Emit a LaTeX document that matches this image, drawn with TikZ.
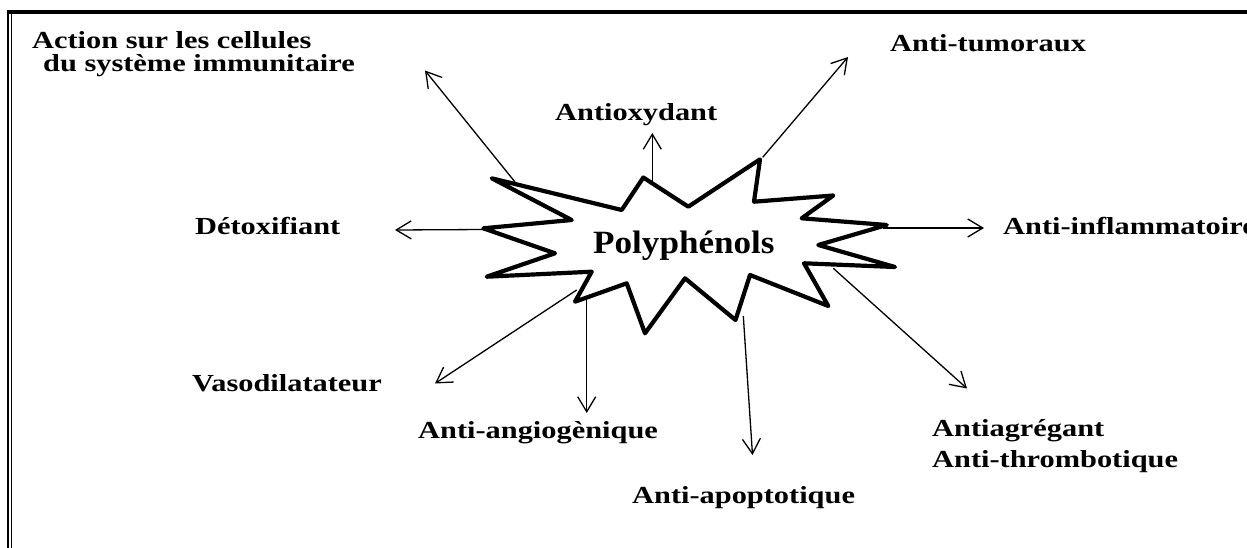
\documentclass[tikz,border=0pt]{standalone}
\usepackage{fontspec}
\setmainfont{Liberation Serif}
\newfontfamily\labfont[FakeStretch=1.24,Ligatures=NoCommon]{Liberation Serif}
\newfontfamily\polyfont[FakeStretch=1.08,Ligatures=NoCommon]{Liberation Serif}
\usetikzlibrary{arrows.meta}
\tikzset{
  lab/.style={anchor=base west, inner sep=0pt, font=\labfont\bfseries\fontsize{24.5}{28}\selectfont},
  polylab/.style={anchor=base west, inner sep=0pt, font=\polyfont\bfseries\fontsize{32.5}{36}\selectfont},
  conn/.style={line width=1.3pt, -{Straight Barb[length=15pt,width=18pt,line width=1.3pt]}},
  starline/.style={line width=4.2pt, line join=round, fill=white},
}
\begin{document}
\begin{tikzpicture}[x=1pt,y=-1pt]
\useasboundingbox (0,0) rectangle (1247,548);
\clip (0,0) rectangle (1247,548);
% frame
\draw[line width=4pt] (7.3,12) -- (1247,12);
\draw[line width=2pt] (8.3,10) -- (8.3,548);
\draw[line width=1.4pt] (11.7,14) -- (11.7,548);
% labels
\node[lab] (act1) at (32,49) {Action sur les cellules};
\node[lab] (act2) at (43,72) {du système immunitaire};
\node[lab] (antiox) at (555,121) {Antioxydant};
\node[lab] (tum) at (890,52) {Anti-tumoraux};
\node[lab] (detox) at (195,234) {Détoxifiant};
\node[lab] (inflam) at (1003,234) {Anti-inflammatoire};
\node[lab] (vaso) at (192,391) {Vasodilatateur};
\node[lab] (angio) at (418,438) {Anti-angiogènique};
\node[lab] (apop) at (632,503) {Anti-apoptotique};
\node[lab] (agr1) at (932,436) {Antiagrégant};
\node[lab] (agr2) at (932,467) {Anti-thrombotique};
% arrow coordinates
\coordinate (s1) at (515,182);   \coordinate (e1) at (425,70.5);
\coordinate (s2) at (652.3,181); \coordinate (e2) at (652.3,133);
\coordinate (s3) at (762.7,157.3); \coordinate (e3) at (848,57);
\coordinate (s4) at (485,229.5); \coordinate (e4) at (395,230);
\coordinate (s5) at (883,228);   \coordinate (e5) at (984,228);
\coordinate (s6) at (576.7,290); \coordinate (e6) at (435,383.5);
\coordinate (s7) at (586.7,300); \coordinate (e7) at (586.7,413);
\coordinate (s8) at (743.3,316); \coordinate (e8) at (752.5,455);
\coordinate (s9) at (833.3,268.3); \coordinate (e9) at (967,388.5);
\foreach \i in {1,...,9} { \draw[conn] (s\i) -- (e\i); }
% star
\draw[starline] (491.7,178.3) -- (621.7,210) -- (643.3,177.5) -- (688.3,206.7)
  -- (760,159.3) -- (754,201.7) -- (833.3,195.5) -- (801.7,218.3) -- (886.7,225)
  -- (818.3,245) -- (895,267) -- (804,263.3) -- (828.3,306) -- (750,275)
  -- (735.5,320) -- (685,278.3) -- (645,333.3) -- (626.7,283.3) -- (575,301.7)
  -- (591.7,271.7) -- (486.7,276.7) -- (555,253.3) -- (483.3,228.3) -- (571.7,220) -- cycle;
\node[polylab] (poly) at (593,253) {Polyphénols};
\end{tikzpicture}
\end{document}
